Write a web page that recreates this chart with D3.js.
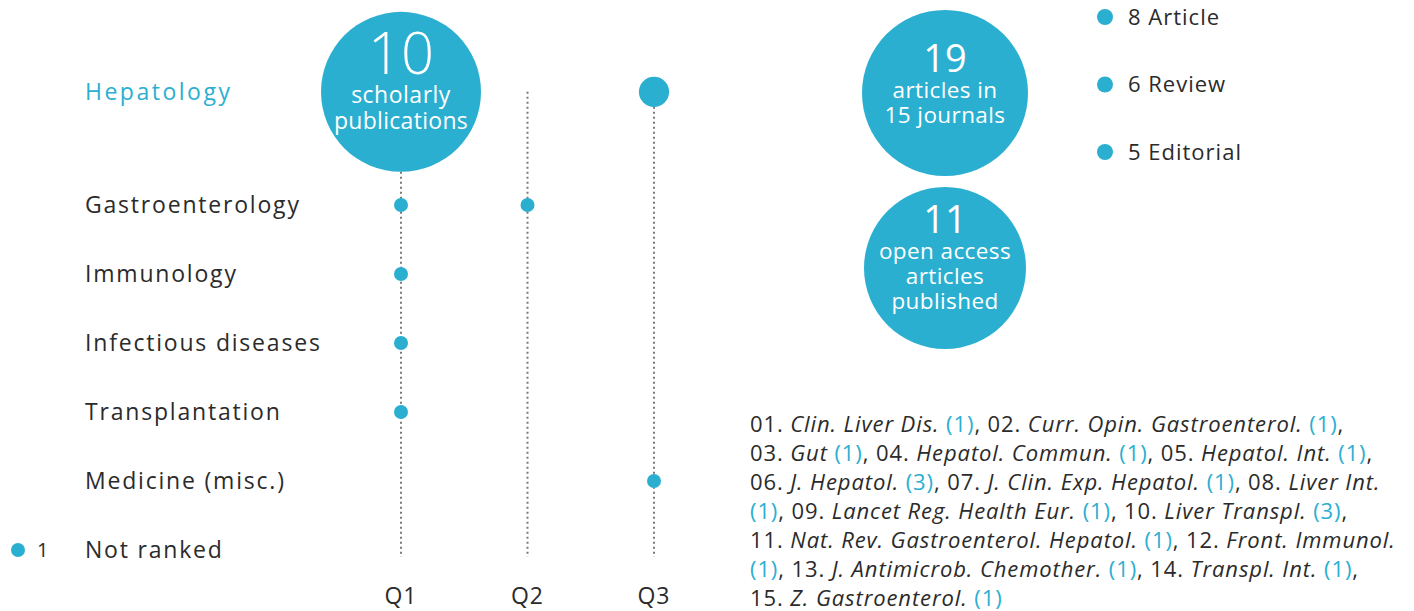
<!DOCTYPE html>
<html>
<head>
<meta charset="utf-8">
<script src="https://cdn.jsdelivr.net/npm/d3@7"></script>
<style>
  body { margin: 0; background: #fff; }
  svg { font-family: "Open Sans", Lato, sans-serif; }
</style>
</head>
<body>
<div id="chart"></div>
<script>
var svgWidth = 1414;
var svgHeight = 611;

var blue = "#2bafd1";
var dark = "#2b2b2b";

// Data
var categories = ["Hepatology", "Gastroenterology", "Immunology", "Infectious diseases",
    "Transplantation", "Medicine (misc.)", "Not ranked"];
var quartiles = ["Q1", "Q2", "Q3"];

var pointCategory = ["Hepatology", "Hepatology", "Gastroenterology", "Gastroenterology",
    "Immunology", "Infectious diseases", "Transplantation", "Medicine (misc.)"];
var pointQuartile = ["Q1", "Q3", "Q1", "Q2", "Q1", "Q1", "Q1", "Q3"];
var pointCount = [10, 2, 1, 1, 1, 1, 1, 1];

var notRankedCount = 1;

var bigTitle = ["10", "scholarly", "publications"];
var summaryCircles = [
    ["19", "articles in", "15 journals"],
    ["11", "open access", "articles", "published"]
];

var typeLabels = ["Article", "Review", "Editorial"];
var typeCounts = [8, 6, 5];

var journals = ["Clin. Liver Dis.", "Curr. Opin. Gastroenterol.", "Gut", "Hepatol. Commun.",
    "Hepatol. Int.", "J. Hepatol.", "J. Clin. Exp. Hepatol.", "Liver Int.",
    "Lancet Reg. Health Eur.", "Liver Transpl.", "Nat. Rev. Gastroenterol. Hepatol.",
    "Front. Immunol.", "J. Antimicrob. Chemother.", "Transpl. Int.", "Z. Gastroenterol."];
var journalCounts = [1, 1, 1, 1, 1, 3, 1, 1, 1, 3, 1, 1, 1, 1, 1];
// how the list wraps: which journal pieces go on each text line
var journalLines = [
    [{j: 0, part: "all"}, {j: 1, part: "all"}],
    [{j: 2, part: "all"}, {j: 3, part: "all"}, {j: 4, part: "all"}],
    [{j: 5, part: "all"}, {j: 6, part: "all"}, {j: 7, part: "name"}],
    [{j: 7, part: "count"}, {j: 8, part: "all"}, {j: 9, part: "all"}],
    [{j: 10, part: "all"}, {j: 11, part: "name"}],
    [{j: 11, part: "count"}, {j: 12, part: "all"}, {j: 13, part: "all"}],
    [{j: 14, part: "last"}]
];

var svg = d3.select("#chart").append("svg")
    .attr("width", svgWidth)
    .attr("height", svgHeight);

// Scales
var xScale = d3.scalePoint()
    .domain(quartiles)
    .range([401, 654]);

var rowScale = d3.scaleLinear()
    .domain([1, 6])
    .range([205, 550]);

function rowY(cat) {
    var i = categories.indexOf(cat);
    return i === 0 ? rowScale(-0.64) : rowScale(i);
}

var rScale = d3.scaleLinear()
    .domain([1, 10])
    .range([7, 80]);

var lineTop = rowY("Hepatology");
var lineBottom = 557;

// dotted guide lines
svg.selectAll(".guide")
    .data(quartiles)
    .enter()
    .append("line")
    .attr("x1", d => xScale(d))
    .attr("x2", d => xScale(d))
    .attr("y1", lineTop)
    .attr("y2", lineBottom)
    .attr("stroke", "#7a7a7a")
    .attr("stroke-width", 2)
    .attr("stroke-dasharray", "2,3");

// quartile labels
svg.selectAll(".qLabel")
    .data(quartiles)
    .enter()
    .append("text")
    .attr("x", d => xScale(d))
    .attr("y", 604)
    .attr("text-anchor", "middle")
    .attr("font-size", "23px")
    .attr("letter-spacing", "1px")
    .attr("fill", dark)
    .text(d => d);

// category labels
svg.selectAll(".catLabel")
    .data(categories)
    .enter()
    .append("text")
    .attr("x", 85)
    .attr("y", d => rowY(d))
    .attr("dy", "0.35em")
    .attr("font-size", "23px")
    .attr("letter-spacing", d => d === "Hepatology" ? "2.5px" : "1.8px")
    .attr("fill", d => d === "Hepatology" ? blue : dark)
    .text(d => d);

// points
var points = pointCount.map(function(c, i) {
    return {cat: pointCategory[i], q: pointQuartile[i], count: c};
});

svg.selectAll(".dot")
    .data(points)
    .enter()
    .append("circle")
    .attr("cx", d => xScale(d.q))
    .attr("cy", d => rowY(d.cat))
    .attr("r", d => rScale(d.count))
    .attr("fill", blue);

// big circle text
var bigX = xScale("Q1");
var bigY = rowY("Hepatology");
svg.append("text")
    .attr("x", bigX).attr("y", bigY - 18)
    .attr("text-anchor", "middle")
    .attr("font-size", "58px")
    .attr("font-weight", 300)
    .attr("fill", "#fff")
    .text(bigTitle[0]);
svg.append("text")
    .attr("x", bigX).attr("y", bigY + 11)
    .attr("text-anchor", "middle")
    .attr("font-size", "23px")
    .attr("letter-spacing", "0.5px")
    .attr("fill", "#fff")
    .text(bigTitle[1]);
svg.append("text")
    .attr("x", bigX).attr("y", bigY + 37)
    .attr("text-anchor", "middle")
    .attr("font-size", "23px")
    .attr("letter-spacing", "0.3px")
    .attr("fill", "#fff")
    .text(bigTitle[2]);

// not ranked legend
svg.append("circle")
    .attr("cx", 18).attr("cy", rowY("Not ranked"))
    .attr("r", rScale(notRankedCount))
    .attr("fill", blue);
svg.append("text")
    .attr("x", 37).attr("y", rowY("Not ranked"))
    .attr("dy", "0.35em")
    .attr("font-size", "20px")
    .attr("fill", dark)
    .text(notRankedCount);

// summary circles
var sumCenters = [{x: 945, y: 93, r: 83}, {x: 945, y: 268, r: 81}];
summaryCircles.forEach(function(lines, k) {
    var c = sumCenters[k];
    svg.append("circle")
        .attr("cx", c.x).attr("cy", c.y).attr("r", c.r)
        .attr("fill", blue);
    var g = svg.append("g");
    var startY = k === 0 ? c.y - 21 : c.y - 35;
    g.append("text")
        .attr("x", c.x).attr("y", startY)
        .attr("text-anchor", "middle")
        .attr("font-size", "38px")
        .attr("fill", "#fff")
        .text(lines[0]);
    lines.slice(1).forEach(function(t, i) {
        g.append("text")
            .attr("x", c.x).attr("y", startY + 26 + i * 25)
            .attr("text-anchor", "middle")
            .attr("font-size", "22.5px")
            .attr("letter-spacing", "0.4px")
            .attr("fill", "#fff")
            .text(t);
    });
});

// article type legend
var typeY = d3.scaleLinear().domain([0, 2]).range([17, 152]);
typeLabels.forEach(function(t, i) {
    svg.append("circle")
        .attr("cx", 1105).attr("cy", typeY(i))
        .attr("r", 8)
        .attr("fill", blue);
    svg.append("text")
        .attr("x", 1128).attr("y", typeY(i))
        .attr("dy", "0.35em")
        .attr("font-size", "22px")
        .attr("letter-spacing", "1px")
        .attr("fill", dark)
        .text(typeCounts[i] + " " + t);
});

// journal list
var listG = svg.append("g");
journalLines.forEach(function(line, li) {
    var text = listG.append("text")
        .attr("x", 750)
        .attr("y", 432 + li * 29)
        .attr("font-size", "22px")
        .attr("letter-spacing", "0.9px")
        .attr("fill", dark);
    line.forEach(function(item, k) {
        var num = d3.format("02")(item.j + 1);
        var sep = k > 0 ? ", " : "";
        if (item.part === "count") {
            text.append("tspan").attr("fill", blue).text("(" + journalCounts[item.j] + ")");
            return;
        }
        text.append("tspan").text(sep + num + ". ");
        text.append("tspan").attr("font-style", "italic").text(journals[item.j]);
        if (item.part === "name") return;
        text.append("tspan").text(" ");
        text.append("tspan").attr("fill", blue).text("(" + journalCounts[item.j] + ")");
    });
    var last = line[line.length - 1];
    if (last.part === "all" || last.part === "count") {
        text.append("tspan").text(",");
    }
});
</script>
</body>
</html>
